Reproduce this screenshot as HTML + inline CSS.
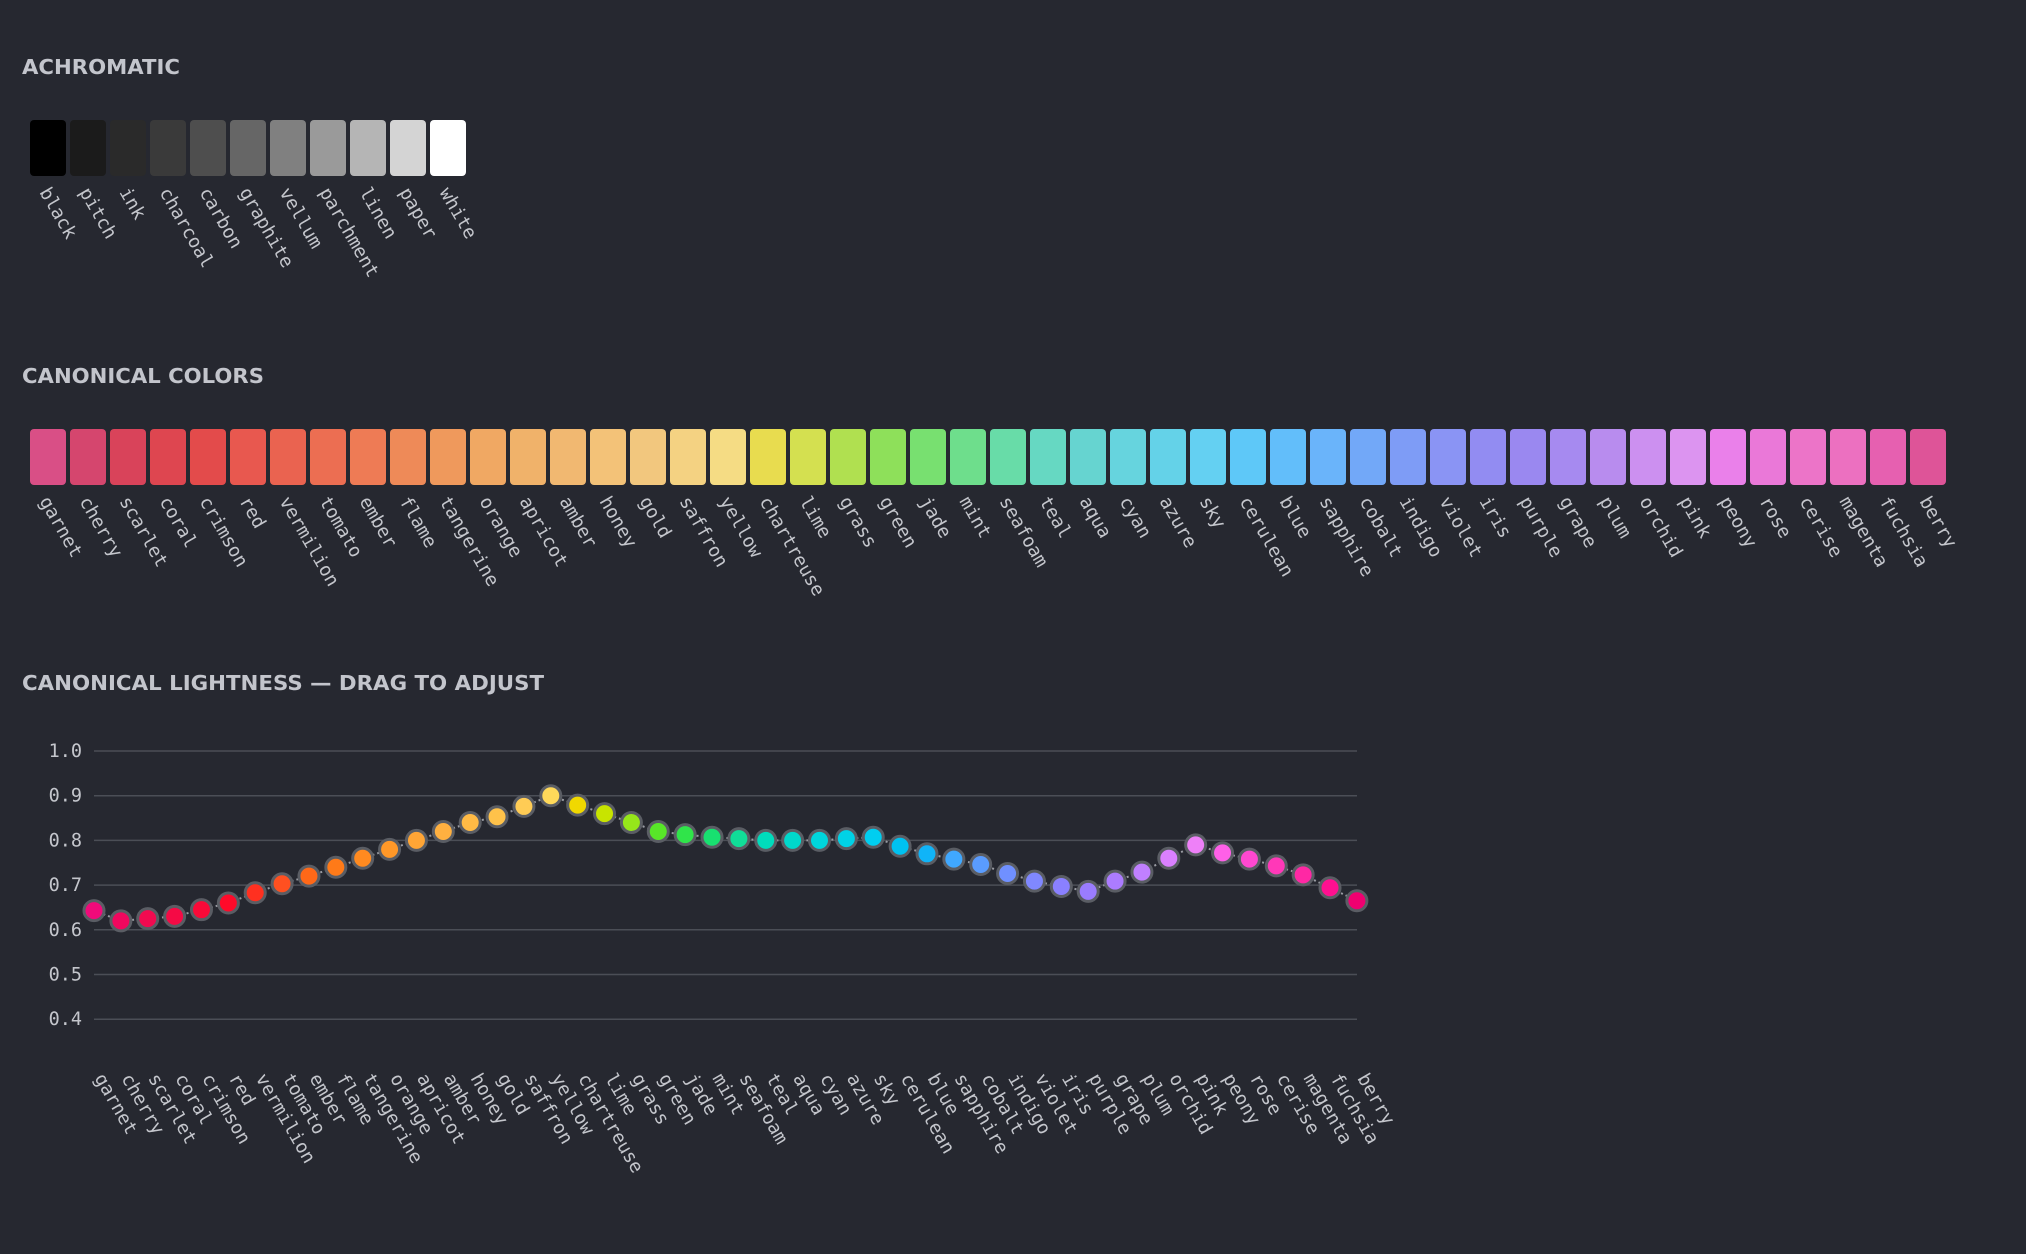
<!DOCTYPE html>
<html><head><meta charset="utf-8"><style>
html,body{margin:0;padding:0;background:#262830;}
svg{display:block}
.h{font-family:"DejaVu Sans","Liberation Sans",sans-serif;font-weight:bold;font-size:20px;fill:#c3c5cc;}
.l{font-family:"DejaVu Sans Mono","Liberation Mono",monospace;font-size:18.5px;fill:#c4c6cc;}
</style></head><body>
<svg id="s" width="2026" height="1254" xmlns="http://www.w3.org/2000/svg">
<rect width="2026" height="1254" fill="#262830"/>
<text class="h" x="22" y="74" textLength="158" lengthAdjust="spacingAndGlyphs">ACHROMATIC</text>
<text class="h" x="22" y="383" textLength="242" lengthAdjust="spacingAndGlyphs">CANONICAL COLORS</text>
<text class="h" x="22" y="690" textLength="522" lengthAdjust="spacingAndGlyphs">CANONICAL LIGHTNESS — DRAG TO ADJUST</text>
<g id="g"></g>
</svg>
<script>
var NS="http://www.w3.org/2000/svg",g=document.getElementById("g");
function el(t,a,txt){var e=document.createElementNS(NS,t);for(var k in a)e.setAttribute(k,a[k]);if(txt!=null)e.textContent=txt;g.appendChild(e);return e;}
var ach=[["black","#000000"],["pitch","#1b1b1b"],["ink","#2a2a2a"],["charcoal","#3a3a3a"],["carbon","#4e4e4e"],["graphite","#666666"],["vellum","#808080"],["parchment","#9a9a9a"],["linen","#b5b5b5"],["paper","#d4d4d4"],["white","#ffffff"]];
ach.forEach(function(a,i){var x=30+i*40;el("rect",{x:x,y:120,width:36,height:56,rx:4,fill:a[1]});
el("text",{"class":"l",x:x+9,y:192,transform:"rotate(60 "+(x+9)+" 192)"},a[0]);});
var names="garnet cherry scarlet coral crimson red vermilion tomato ember flame tangerine orange apricot amber honey gold saffron yellow chartreuse lime grass green jade mint seafoam teal aqua cyan azure sky cerulean blue sapphire cobalt indigo violet iris purple grape plum orchid pink peony rose cerise magenta fuchsia berry".split(" ");
var sw="#d94f86 #d5466e #d9435a #de4650 #e34b4b #e8584f #ea6350 #ec6e52 #ee7b55 #ee8a58 #ef995c #f0a863 #f0b26a #f1b871 #f3c278 #f2c77e #f4d282 #f5dc84 #e8dc4f #d4e050 #b0e050 #8ee05a #78e070 #6ede8c #68dca8 #66d8c2 #66d4d0 #66d4de #64d2e8 #64d0f2 #5ec8f8 #62befa #6ab4fa #72a8f8 #7e9cf6 #8a94f4 #928cf2 #9a88f0 #a68af0 #b88cee #cc90f0 #dc94f0 #ea80ea #ea78d8 #ec74c8 #ec70c0 #e660b0 #de5498".split(" ");
var pc="#f00a7a #f0075e #f20a50 #f50a45 #fa0a38 #ff0a2a #ff3020 #ff5020 #ff6818 #ff7a18 #ff8a20 #ff9828 #ffa535 #ffb040 #ffba45 #ffc24a #ffcc55 #ffd95a #f0d800 #c8e400 #96e61a #58e628 #30e44a #18e070 #10de98 #00dcbc #00d8cc #00d6dc #00d2e6 #00cef0 #00c2f0 #10b4f8 #40a8ff #5a9cff #7090ff #8088ff #8a80ff #9a7cff #ac7cff #c080ff #da80ff #ee80f8 #ff60e8 #ff48d0 #ff38b8 #ff28a4 #ff1090 #f00070".split(" ");
var v=[0.643,0.62,0.625,0.63,0.645,0.66,0.683,0.703,0.72,0.74,0.76,0.78,0.80,0.82,0.84,0.853,0.876,0.90,0.879,0.86,0.84,0.82,0.813,0.807,0.804,0.80,0.80,0.80,0.804,0.807,0.787,0.77,0.758,0.746,0.726,0.709,0.697,0.686,0.709,0.729,0.76,0.79,0.772,0.758,0.743,0.723,0.694,0.665];
names.forEach(function(n,i){var x=30+i*40;el("rect",{x:x,y:429,width:36,height:56,rx:4,fill:sw[i]});
el("text",{"class":"l",x:x+9,y:501,transform:"rotate(60 "+(x+9)+" 501)"},n);});
[1.0,0.9,0.8,0.7,0.6,0.5,0.4].forEach(function(t){var y=751+(1-t)*447;
el("line",{x1:94,x2:1357,y1:y,y2:y,stroke:"#4b4e56","stroke-width":1.5});
el("text",{"class":"l",x:82,y:y+6,"text-anchor":"end"},t.toFixed(1));});
var pts=v.map(function(t,i){return [94+i*26.87,751+(1-t)*447];});
el("polyline",{points:pts.map(function(p){return p.join(",")}).join(" "),fill:"none",stroke:"#9a9ca3","stroke-width":2,"stroke-dasharray":"2 3"});
pts.forEach(function(p,i){el("circle",{cx:p[0],cy:p[1],r:10,fill:pc[i],stroke:"#5a5d64","stroke-width":3});
el("text",{"class":"l",x:p[0],y:1078,transform:"rotate(60 "+p[0]+" 1078)"},names[i]);});
</script>
</body></html>
